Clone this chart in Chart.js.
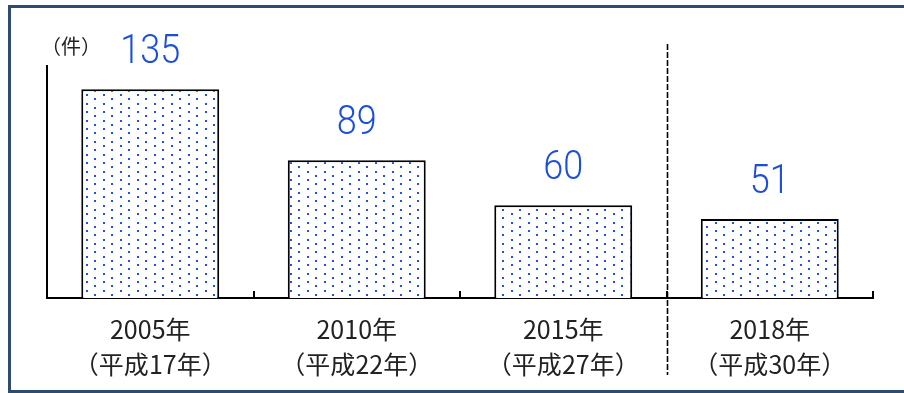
<!DOCTYPE html>
<html>
<head>
<meta charset="utf-8">
<script src="https://cdn.jsdelivr.net/npm/chart.js@4"></script>
<style>
html, body { margin: 0; padding: 0; background: #fff; overflow: hidden; }
#frame { position: absolute; left: 8px; top: 5px; width: 920px; height: 382px; border: 3px solid #2f4b6d; }
#c { position: absolute; left: 0; top: 0; }
</style>
</head>
<body>
<div id="frame"></div>
<canvas id="c" width="904" height="393"></canvas>
<script>
const years = ['2005年', '2010年', '2015年', '2018年'];
const eras = ['（平成17年）', '（平成22年）', '（平成27年）', '（平成30年）'];
const counts = [135, 89, 60, 51];
const unitLabel = '（件）';
const yMax = 150;

const JP = '"Noto Sans CJK JP", "Noto Sans", sans-serif';

// blue dotted fill like the original hatch
function dotPattern() {
  const t = document.createElement('canvas');
  t.width = 17; t.height = 17;
  const g = t.getContext('2d');
  g.fillStyle = '#fff';
  g.fillRect(0, 0, 17, 17);
  g.fillStyle = '#1f52e0';
  [[1, 1], [9, 5], [1, 9], [9, 13]].forEach(([x, y]) => g.fillRect(x, y, 2, 2));
  return g.createPattern(t, 'repeat');
}

const deco = {
  id: 'deco',
  afterDatasetsDraw(chart) {
    const ctx = chart.ctx;
    const area = chart.chartArea;
    const xs = chart.scales.x;
    const px = i => xs.getPixelForValue(i);
    const step = px(1) - px(0);

    // value labels
    const meta = chart.getDatasetMeta(0);
    ctx.save();
    ctx.fillStyle = '#1c4fd8';
    ctx.textAlign = 'center';
    ctx.textBaseline = 'middle';
    ctx.font = '300 40px Roboto, "Noto Sans", sans-serif';
    meta.data.forEach((bar, i) => {
      ctx.save();
      ctx.translate(bar.x, bar.y - 36);
      ctx.scale(0.9, 1);
      ctx.fillText(String(counts[i]), 0, 0);
      ctx.restore();
    });
    ctx.restore();

    // unit label
    ctx.save();
    ctx.fillStyle = '#222';
    ctx.font = '20px ' + JP;
    ctx.textAlign = 'left';
    ctx.textBaseline = 'middle';
    ctx.fillText(unitLabel, area.left - 6, area.top - 20);
    ctx.restore();

    // small upward ticks at category boundaries
    ctx.save();
    ctx.strokeStyle = '#000';
    ctx.lineWidth = 2;
    for (let i = 0; i < years.length; i++) {
      const x = Math.round(px(i) + step / 2);
      ctx.beginPath();
      ctx.moveTo(x, area.bottom);
      ctx.lineTo(x, area.bottom - 7);
      ctx.stroke();
    }
    // dashed separator before the last year
    const dx = Math.round((px(2) + px(3)) / 2) + 0.5;
    ctx.lineWidth = 1.6;
    ctx.setLineDash([6, 2]);
    ctx.beginPath();
    ctx.moveTo(dx, area.top - 22);
    ctx.lineTo(dx, area.bottom + 77);
    ctx.stroke();
    ctx.restore();
  }
};

new Chart(document.getElementById('c'), {
  type: 'bar',
  data: {
    labels: years.map((y, i) => [y, eras[i]]),
    datasets: [{
      data: counts,
      backgroundColor: dotPattern(),
      borderColor: '#000',
      borderWidth: 2,
      borderSkipped: 'start',
      barPercentage: 0.668,
      categoryPercentage: 1
    }]
  },
  options: {
    responsive: false,
    animation: false,
    events: [],
    layout: { padding: { left: 47, top: 66, right: 31, bottom: 0 } },
    plugins: { legend: { display: false }, tooltip: { enabled: false } },
    scales: {
      x: {
        z: 1,
        grid: { display: false, drawTicks: false },
        border: { display: true, color: '#000', width: 2 },
        ticks: { color: '#222', font: { family: JP, size: 25, lineHeight: 1.4 }, padding: 14 },
        afterFit: s => { s.height = 95; }
      },
      y: {
        min: 0,
        max: yMax,
        ticks: { display: false },
        grid: { display: false, drawTicks: false },
        border: { display: true, color: '#000', width: 2 },
        afterFit: s => { s.width = 0; }
      }
    }
  },
  plugins: [deco]
});
</script>
</body>
</html>
